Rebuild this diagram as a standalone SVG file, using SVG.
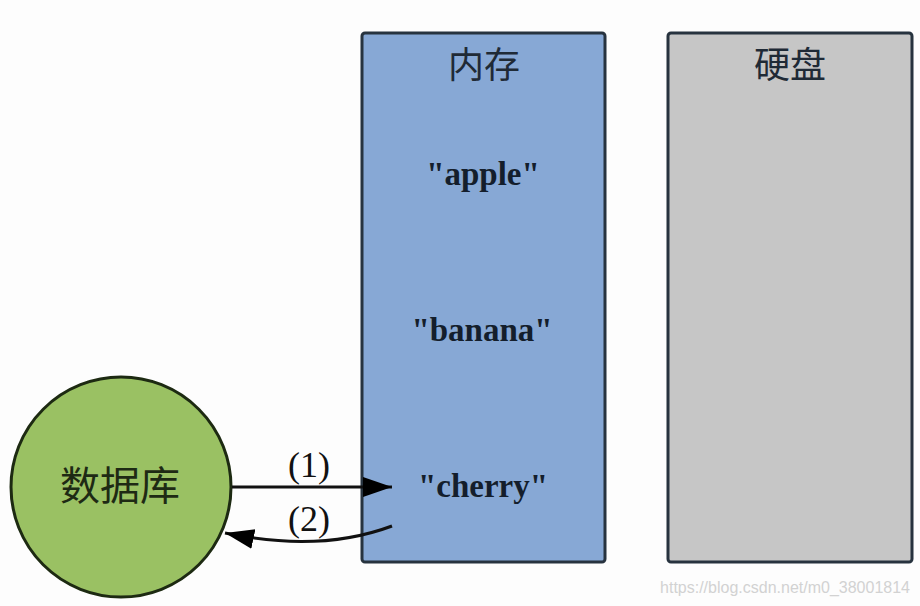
<svg xmlns="http://www.w3.org/2000/svg" width="920" height="606" viewBox="0 0 920 606">
<style>
.box{stroke:#27333f;stroke-width:3}
.cjk{font-family:"Noto Sans CJK SC","Noto Sans",sans-serif;fill:#1f2a36}
.item{font-family:"Liberation Serif","Times New Roman",serif;font-weight:bold;font-size:33px;fill:#141e2c;text-anchor:middle}
.lbl{font-family:"Liberation Serif","Times New Roman",serif;font-size:36px;fill:#111;text-anchor:middle}
.edge{fill:none;stroke:#111;stroke-width:3}
</style>
<defs>
<marker id="ah" markerUnits="userSpaceOnUse" markerWidth="32" markerHeight="22" refX="29" refY="10" orient="auto">
<path d="M0,0 L29,10 L0,20 z" fill="#000"/>
</marker>
</defs>
<rect width="920" height="606" fill="#fdfdfd"/>
<g id="memory">
<rect class="box" x="362" y="33" width="243" height="529" rx="3" fill="#87a8d5"/>
<text class="cjk" x="484" y="78" font-size="36" text-anchor="middle">内存</text>
<text class="item" x="483" y="185">"apple"</text>
<text class="item" x="482" y="341">"banana"</text>
<text class="item" x="483" y="497">"cherry"</text>
</g>
<g id="disk">
<rect class="box" x="668" y="33" width="244" height="529" rx="3" fill="#c6c6c6"/>
<text class="cjk" x="790" y="78" font-size="36" text-anchor="middle">硬盘</text>
</g>
<g id="database">
<circle cx="121" cy="487" r="110" fill="#9ac163" stroke="#1d2a12" stroke-width="3"/>
<text class="cjk" x="120" y="500" font-size="40" text-anchor="middle" style="fill:#1e2a14">数据库</text>
</g>
<g id="connectors">
<path class="edge" d="M232,487 L392,487" marker-end="url(#ah)"/>
<path class="edge" d="M392,526 Q320,553 225,533" marker-end="url(#ah)"/>
<text class="lbl" x="309" y="477">(1)</text>
<text class="lbl" x="309" y="531">(2)</text>
</g>
<text x="910" y="593" font-family="Liberation Sans,Arial,sans-serif" font-size="16" fill="#d2d2d2" text-anchor="end">https://blog.csdn.net/m0_38001814</text>
</svg>
